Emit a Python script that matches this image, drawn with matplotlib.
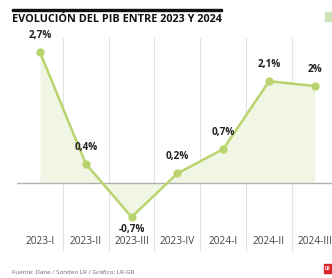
import matplotlib.pyplot as plt
from matplotlib.patches import Rectangle

# Data
periods = ["2023-I", "2023-II", "2023-III", "2023-IV", "2024-I", "2024-II", "2024-III"]
pib = [2.7, 0.4, -0.7, 0.2, 0.7, 2.1, 2.0]
value_labels = ["2,7%", "0,4%", "-0,7%", "0,2%", "0,7%", "2,1%", "2%"]

plt.rcParams['font.family'] = ['Open Sans', 'DejaVu Sans']

W, H = 332, 278
fig = plt.figure(figsize=(W / 100, H / 100), dpi=100)
fig.patch.set_facecolor('white')

# axes in pixel terms: left 17, right 332, top 38, bottom 252
ax = fig.add_axes([17 / W, (H - 252) / H, (332 - 17) / W, (252 - 38) / H])
ax.set_xlim(-0.5, -0.5 + 315 / 45.83)
ax.set_ylim(-1.42, 2.99)
ax.axis('off')

line_color = '#b9d46f'
x = list(range(len(periods)))

# vertical separators
for i in range(len(periods) - 1):
    ax.axvline(i + 0.5, color='#e3e3e3', lw=0.8, zorder=0)

ax.fill_between(x, pib, 0, color='#f1f6e4', zorder=1, lw=0)
ax.axhline(0, color='#b0b0b0', lw=1.0, zorder=2)
ax.plot(x, pib, color=line_color, lw=1.8, marker='o', ms=5, zorder=3)

for xi, v, lab in zip(x, pib, value_labels):
    if v >= 0:
        ax.annotate(lab, (xi, v), xytext=(0, 8), textcoords='offset points',
                    ha='center', va='bottom', fontsize=7.2, fontweight='bold', color='#222222')
    else:
        ax.annotate(lab, (xi, v), xytext=(0, -5), textcoords='offset points',
                    ha='center', va='top', fontsize=7.2, fontweight='bold', color='#222222')

for xi, p in zip(x, periods):
    ax.text(xi, -1.2, p, ha='center', va='center', fontsize=7.3, color='#444444')

# title and decorations
fig.add_artist(Rectangle((12 / W, 1 - 10.5 / H), 210 / W, 1.5 / H, color='#111111',
                         transform=fig.transFigure))
fig.text(12 / W, 1 - 19 / H, "EVOLUCIÓN DEL PIB ENTRE 2023 Y 2024", ha='left', va='center',
         fontsize=7.8, fontweight='bold', color='#111111')
fig.add_artist(Rectangle((325 / W, 1 - 21 / H), 7 / W, 9 / H, color='#cfe3b8',
                         transform=fig.transFigure))

fig.text(12 / W, 1 - 272 / H, "Fuente: Dane / Sondeo LR / Gráfico: LR-GR", ha='left',
         va='center', fontsize=4.5, color='#666666')
fig.add_artist(Rectangle((324 / W, 1 - 273 / H), 8 / W, 9 / H, color='#d8262b',
                         transform=fig.transFigure))
fig.text(328 / W, 1 - 268.5 / H, "LR", ha='center', va='center', fontsize=3.5,
         fontweight='bold', color='white')

fig.savefig('out.png', dpi=100)
